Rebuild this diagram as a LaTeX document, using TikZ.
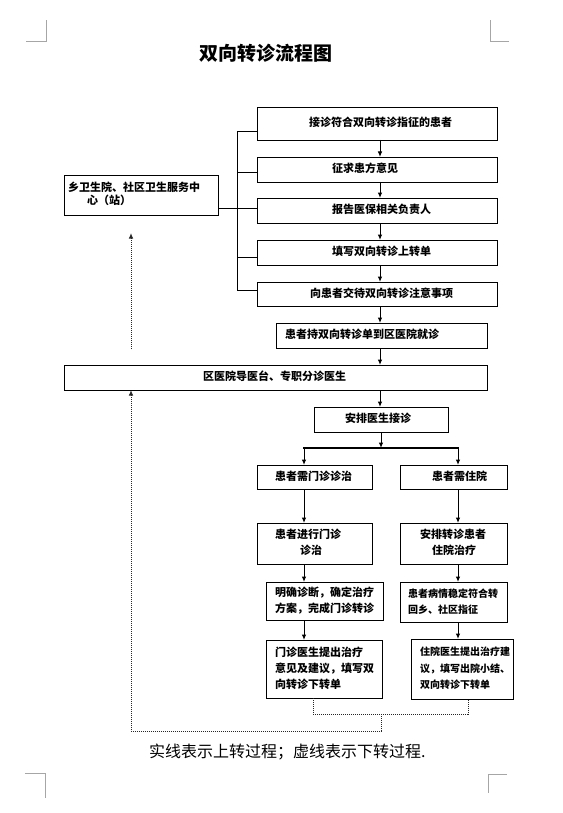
\documentclass[tikz,border=0pt]{standalone}
\usepackage{fontspec}
\setmainfont{Noto Sans CJK SC}
\usetikzlibrary{arrows.meta}
\newcommand\boxtxt[3]{\makebox[#1pt][l]{\hspace*{#2pt}\begin{tabular}{@{}l@{}}#3\end{tabular}}}
\begin{document}
\begin{tikzpicture}[x=1pt,y=-1pt,
  box/.style={draw, line width=0.9pt, inner sep=0pt, outer sep=0pt, font=\fontsize{11}{16}\selectfont\bfseries},
  smallbox/.style={box, font=\fontsize{10}{16.5}\selectfont\bfseries},
  arr/.style={-{Latex[length=5.5pt,width=4.5pt]}, line width=1pt},
  ln/.style={line width=1pt},
  dot/.style={line width=1pt, dash pattern=on 1pt off 1pt, black!85},
  corner/.style={line width=0.6pt, black!35}]
\useasboundingbox (0,0) rectangle (562,813);
% corner marks
\draw[corner] (26,41) -- (46,41) -- (46,20);
\draw[corner] (509,41) -- (490,41) -- (490,20);
\draw[corner] (25,773) -- (45,773) -- (45,798);
\draw[corner] (507,774) -- (488,774) -- (488,793);
% title
\node[font=\fontsize{19}{19}\selectfont\bfseries] (title) at (266,53) {双向转诊流程图};
% boxes
\node[box, minimum width=240, minimum height=33] (b1) at (377,123.5) {\boxtxt{240}{52}{接诊符合双向转诊指征的患者}};
\node[box, minimum width=240, minimum height=25] (b2) at (377,169.5) {\boxtxt{240}{75}{征求患方意见}};
\node[box, minimum width=240, minimum height=25] (b3) at (377,210.5) {\boxtxt{240}{75}{报告医保相关负责人}};
\node[box, minimum width=240, minimum height=25] (b4) at (377,252.5) {\boxtxt{240}{75}{填写双向转诊上转单}};
\node[box, minimum width=240, minimum height=24] (b5) at (377,294) {\boxtxt{240}{53}{向患者交待双向转诊注意事项}};
\node[box, minimum width=154, minimum height=40, font=\fontsize{11}{13}\selectfont\bfseries] (L) at (141,195) {\boxtxt{154}{4}{乡卫生院、社区卫生服务中\\\hspace*{19pt}心（站）}};
\node[box, minimum width=211, minimum height=25] (b6) at (381.5,335.5) {\boxtxt{211}{9}{患者持双向转诊单到区医院就诊}};
\node[box, minimum width=423, minimum height=25] (b7) at (275.5,377.5) {\boxtxt{423}{139}{区医院导医台、专职分诊医生}};
\node[box, minimum width=134, minimum height=25] (b8) at (381,419.5) {\boxtxt{134}{31}{安排医生接诊}};
\node[box, minimum width=115, minimum height=24] (b9) at (314.5,477) {\boxtxt{115}{18}{患者需门诊诊治}};
\node[box, minimum width=107, minimum height=24] (b10) at (453.5,477) {\boxtxt{107}{32}{患者需住院}};
\node[box, minimum width=115, minimum height=41] (b11) at (314.5,543.5) {\boxtxt{115}{18}{患者进行门诊\\\hspace*{25pt}诊治}};
\node[box, minimum width=107, minimum height=41] (b12) at (453.5,543.5) {\boxtxt{107}{20}{安排转诊患者\\\hspace*{12pt}住院治疗}};
\node[box, minimum width=117, minimum height=38] (b13) at (324.5,601) {\boxtxt{117}{9}{明确诊断，确定治疗\\方案，完成门诊转诊}};
\node[smallbox, minimum width=107, minimum height=40] (b14) at (453.5,602) {\boxtxt{107}{8}{患者病情稳定符合转\\回乡、社区指征}};
\node[box, minimum width=116, minimum height=58] (b15) at (324,669) {\boxtxt{116}{9}{门诊医生提出治疗\\意见及建议，填写双\\向转诊下转单}};
\node[smallbox, minimum width=102, minimum height=60] (b16) at (462,669) {\boxtxt{102}{9}{住院医生提出治疗建\\议，填写出院小结、\\双向转诊下转单}};
% caption
\node[anchor=west, inner sep=0pt, font=\fontsize{16}{16}\selectfont] (cap) at (149,752) {实线表示上转过程；虚线表示下转过程.};
% main arrows
\coordinate (ax) at (380,0);
\draw[arr] (b1.south -| ax) -- (b2.north -| ax);
\draw[arr] (b2.south -| ax) -- (b3.north -| ax);
\draw[arr] (b3.south -| ax) -- (b4.north -| ax);
\draw[arr] (b4.south -| ax) -- (b5.north -| ax);
\draw[arr] (b5.south -| ax) -- (b6.north -| ax);
\draw[arr] (b6.south -| ax) -- (b7.north -| ax);
\draw[arr] (b7.south -| ax) -- (b8.north -| ax);
% bus to left box
\coordinate (bt) at (237,132);
\coordinate (bu2) at (237,173);
\coordinate (bm) at (237,208);
\coordinate (bu4) at (237,257);
\coordinate (bb) at (237,290);
\draw[ln] (bt) -- (bb);
\draw[ln] (bt) -- (b1.west |- bt);
\draw[ln] (bu2) -- (b2.west |- bu2);
\draw[ln] (L.east |- bm) -- (b3.west |- bm);
\draw[ln] (bu4) -- (b4.west |- bu4);
\draw[ln] (bb) -- (b5.west |- bb);
% branch bar
\coordinate (bar) at (381,448);
\coordinate (barL) at (304,448);
\coordinate (barR) at (458,448);
\draw[arr] (b8.south -| bar) -- (bar);
\draw[line width=2pt, line cap=rect] (barL) -- (barR);
\draw[arr] (barL) -- (b9.north -| barL);
\draw[arr] (barR) -- (b10.north -| barR);
\draw[arr] (b9.south -| barL) -- (b11.north -| barL);
\draw[arr] (b10.south -| barR) -- (b12.north -| barR);
\draw[arr] (b11.south -| barL) -- (b13.north -| barL);
\draw[arr] (b12.south -| barR) -- (b14.north -| barR);
\draw[arr] (b13.south -| barL) -- (b15.north -| barL);
\draw[arr] (b14.south -| barR) -- (b16.north -| barR);
% dotted return paths
\coordinate (d1) at (313,714);
\coordinate (d2) at (468,714);
\coordinate (dm) at (381,714);
\coordinate (d3) at (381,731);
\coordinate (d4) at (131,731);
\draw[dot] (b15.south -| d1) -- (d1) -- (d2) -- (b16.south -| d2);
\draw[dot, -{Latex[length=5.5pt,width=4.5pt]}] (dm) -- (d3) -- (d4) -- (b7.south -| d4);
\coordinate (u1) at (131,349);
\coordinate (u2) at (131,233);
\draw[dot, -{Latex[length=5.5pt,width=4.5pt]}] (u1) -- (u2);
\end{tikzpicture}
\end{document}
